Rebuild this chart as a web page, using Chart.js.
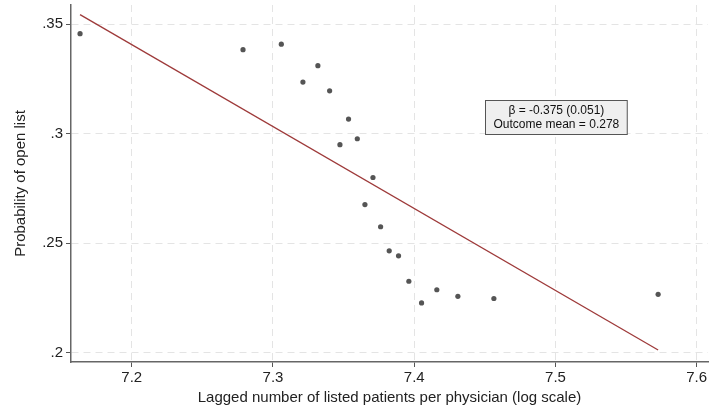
<!DOCTYPE html>
<html>
<head>
<meta charset="utf-8">
<script src="https://cdn.jsdelivr.net/npm/chart.js@4/dist/chart.umd.min.js"></script>
<style>
html,body{margin:0;padding:0;background:#fff;overflow:hidden;}
#wrap{position:relative;width:712px;height:409px;}
</style>
</head>
<body>
<div id="wrap"><canvas id="c"></canvas></div>
<script>
// Binned scatter points
const binX = [7.1634, 7.2788, 7.3059, 7.3212, 7.3318, 7.3401, 7.3535, 7.3474, 7.3597, 7.3708,
              7.3651, 7.3762, 7.3823, 7.3889, 7.3962, 7.4052, 7.4160, 7.4309, 7.4564, 7.5727];
const binY = [0.3457, 0.3384, 0.3409, 0.3236, 0.3311, 0.3196, 0.3067, 0.2950, 0.2977, 0.2800,
              0.2676, 0.2575, 0.2465, 0.2442, 0.2326, 0.2227, 0.2287, 0.2257, 0.2247, 0.2266];
// Fitted line endpoints
const fitX = [7.1634, 7.5727];
const fitY = [0.3544, 0.2012];
// Tick labels
const xTicks = [7.2, 7.3, 7.4, 7.5, 7.6];
const yTicks = [0.2, 0.25, 0.3, 0.35];
const yTickLabels = ['.2', '.25', '.3', '.35'];
const xTickLabels = ['7.2', '7.3', '7.4', '7.5', '7.6'];
// Annotation text
const noteLines = ['\u03B2 = -0.375 (0.051)', 'Outcome mean = 0.278'];

const FONT = "'Liberation Sans', Arial, sans-serif";

const scatterData = binX.map((x, i) => ({x: x, y: binY[i]}));
const fitData = fitX.map((x, i) => ({x: x, y: fitY[i]}));

const notePlugin = {
  id: 'note',
  afterDatasetsDraw(chart, args, opts) {
    const ctx = chart.ctx;
    const cx = chart.scales.x.getPixelForValue(opts.x);
    const cy = chart.scales.y.getPixelForValue(opts.y);
    ctx.save();
    ctx.font = '12px ' + FONT;
    let w = 0;
    noteLines.forEach(t => { w = Math.max(w, ctx.measureText(t).width); });
    const bw = w + 16, lh = 14, bh = noteLines.length * lh + 6;
    const x0 = Math.round(cx - bw / 2) + 0.5, y0 = Math.round(cy - bh / 2) + 0.5;
    ctx.fillStyle = '#efefef';
    ctx.fillRect(x0, y0, bw, bh);
    ctx.strokeStyle = '#555';
    ctx.lineWidth = 1;
    ctx.strokeRect(x0, y0, bw, bh);
    ctx.fillStyle = '#111';
    ctx.textAlign = 'center';
    ctx.textBaseline = 'middle';
    noteLines.forEach((t, i) => {
      ctx.fillText(t, x0 + bw / 2, y0 + 3 + lh / 2 + i * lh + 0.5);
    });
    ctx.restore();
  }
};

new Chart(document.getElementById('c'), {
  type: 'scatter',
  data: {
    datasets: [
      {
        type: 'line',
        data: fitData,
        borderColor: '#9e3a3a',
        borderWidth: 1.3,
        pointRadius: 0,
        fill: false,
        order: 2
      },
      {
        type: 'scatter',
        data: scatterData,
        backgroundColor: '#555555',
        borderColor: '#555555',
        borderWidth: 0,
        pointRadius: 2.6,
        order: 1
      }
    ]
  },
  plugins: [notePlugin],
  options: {
    responsive: true,
    maintainAspectRatio: false,
    animation: false,
    layout: {padding: {top: 5, right: 0, left: 0, bottom: 0}},
    plugins: {
      legend: {display: false},
      tooltip: {enabled: false},
      note: {x: 7.5, y: 0.3076}
    },
    scales: {
      x: {
        type: 'linear',
        min: 7.157,
        max: 7.608,
        afterBuildTicks: s => { s.ticks = xTicks.map(v => ({value: v})); },
        afterFit: s => { s.height = 47; s.paddingRight = 0; s.paddingLeft = 0; },
        ticks: {
          callback: (v, i) => xTickLabels[i],
          color: '#222',
          font: {family: FONT, size: 15},
          padding: 2,
          maxRotation: 0
        },
        grid: {color: '#e4e4e4', lineWidth: 1, tickColor: '#555', tickLength: 5},
        border: {display: true, color: '#666', width: 1.5, dash: [7, 5]},
        title: {
          display: true,
          text: 'Lagged number of listed patients per physician (log scale)',
          color: '#222',
          font: {family: FONT, size: 15},
          padding: {top: 0, bottom: 2}
        }
      },
      y: {
        type: 'linear',
        min: 0.1957,
        max: 0.3588,
        afterBuildTicks: s => { s.ticks = yTicks.map(v => ({value: v})); },
        afterFit: s => { s.width = 71; s.paddingTop = 0; s.paddingBottom = 0; },
        ticks: {
          callback: (v, i) => yTickLabels[i],
          color: '#222',
          font: {family: FONT, size: 15},
          padding: 3
        },
        grid: {color: '#e4e4e4', lineWidth: 1, tickColor: '#555', tickLength: 5},
        border: {display: true, color: '#666', width: 1.5, dash: [7, 5]},
        title: {
          display: true,
          text: 'Probability of open list',
          color: '#222',
          font: {family: FONT, size: 15},
          padding: {top: 12, bottom: 0}
        }
      }
    }
  }
});
</script>
</body>
</html>
